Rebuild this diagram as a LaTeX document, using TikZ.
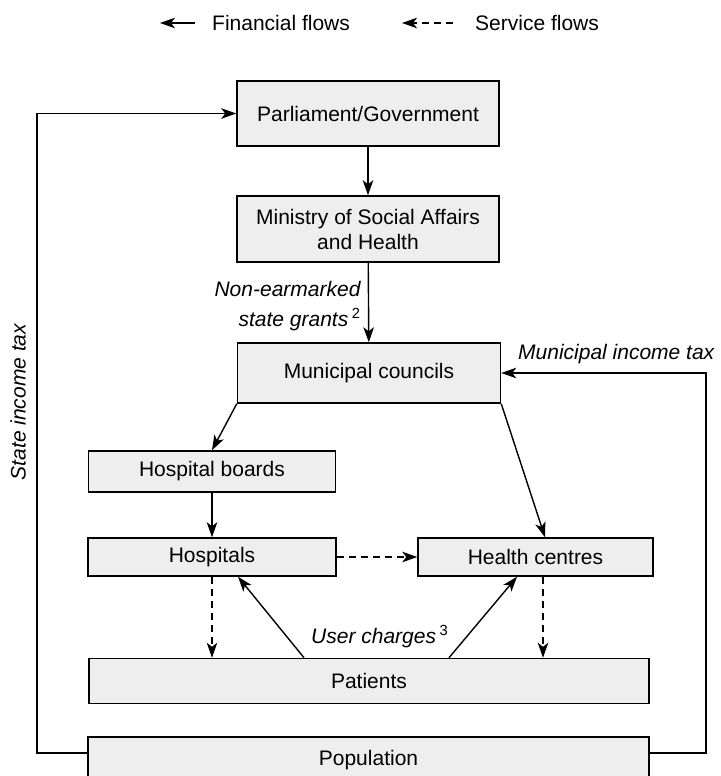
\documentclass[tikz,border=0pt]{standalone}
\usepackage{fontspec}
\setmainfont{Liberation Sans}
\usetikzlibrary{arrows.meta}
\definecolor{boxgray}{RGB}{238,238,238}

\begin{document}
\begin{tikzpicture}[x=1pt,y=-1pt,
        font=\fontsize{21}{25}\selectfont,
        box/.style={draw,line width=1.5pt,fill=boxgray,inner sep=0pt},
        flow/.style={line width=1.4pt,-{Stealth[length=15pt,width=10.5pt,inset=4pt]}},
        service/.style={flow,dash pattern=on 7pt off 5pt},
        lbl/.style={font=\fontsize{21}{30}\selectfont\itshape}]
        \useasboundingbox (0,0) rectangle (720,776);

        % legend
        \node[anchor=west,inner sep=0pt] (fintext) at (212,23) {Financial flows};
        \node[anchor=west,inner sep=0pt] (sertext) at (475,23) {Service flows};
        \coordinate (fina) at (195,23);
        \coordinate (finb) at (160,23);
        \coordinate (sera) at (453,23);
        \coordinate (serb) at (402,23);
        \draw[flow] (fina) -- (finb);
        \draw[service] (sera) -- (serb);

        % boxes
        \node[box,minimum width=262,minimum height=65] (parl) at (368,113.5) {Parliament/Government};
        \node[box,minimum width=262,minimum height=66,align=center] (min) at (368,229) {Ministry of Social Affairs\\and Health};
        \node[box,minimum width=263,minimum height=60] (mun) at (369,373) {Municipal councils};
        \node[box,minimum width=247,minimum height=41] (hb) at (212,471.5) {Hospital boards};
        \node[box,minimum width=248,minimum height=38] (hosp) at (212,557) {Hospitals};
        \node[box,minimum width=235,minimum height=38] (hc) at (535.5,557) {Health centres};
        \node[box,minimum width=560,minimum height=45] (pat) at (369,681) {Patients};
        \node[box,minimum width=561,minimum height=46] (pop) at (368.5,760) {Population};

        % labels
        \node[lbl,align=right,anchor=east] (grants) at (364,306) {Non-earmarked\\state grants\,\textsuperscript{\upshape 2}};
        \node[lbl,anchor=base west,inner sep=0pt] (mit) at (518,359) {Municipal income tax};
        \node[lbl,rotate=90] (sit) at (18,402) {State income tax};
        \node[lbl,anchor=base west,inner sep=0pt] (uc) at (311,643) {User charges\,\textsuperscript{\upshape 3}};

        % financial flows
        \draw[flow] (parl) -- (min);
        \draw[flow] (min) -- (mun);
        \draw[flow] (mun.south west) -- (hb.north);
        \draw[flow] (mun.south east) -- ([xshift=9.5pt]hc.north);
        \draw[flow] (hb) -- (hosp);
        \draw[flow] ([xshift=-65pt]pat.north) -- ([xshift=26pt]hosp.south);
        \draw[flow] ([xshift=80pt]pat.north) -- ([xshift=-18.5pt]hc.south);

        \coordinate (sl) at (37,753);
        \coordinate (sr) at (706,753);
        \draw[flow] ([yshift=7pt]pop.west) -- (sl) |- (parl.west);
        \draw[flow] ([yshift=7pt]pop.east) -- (sr) |- (mun.east);

        % service flows
        \draw[service] (hosp) -- (hc);
        \draw[service] (hosp.south) -- (hosp.south |- pat.north);
        \draw[service] ([xshift=7.5pt]hc.south) -- ([xshift=7.5pt]hc.south |- pat.north);
    \end{tikzpicture}
\end{document}
